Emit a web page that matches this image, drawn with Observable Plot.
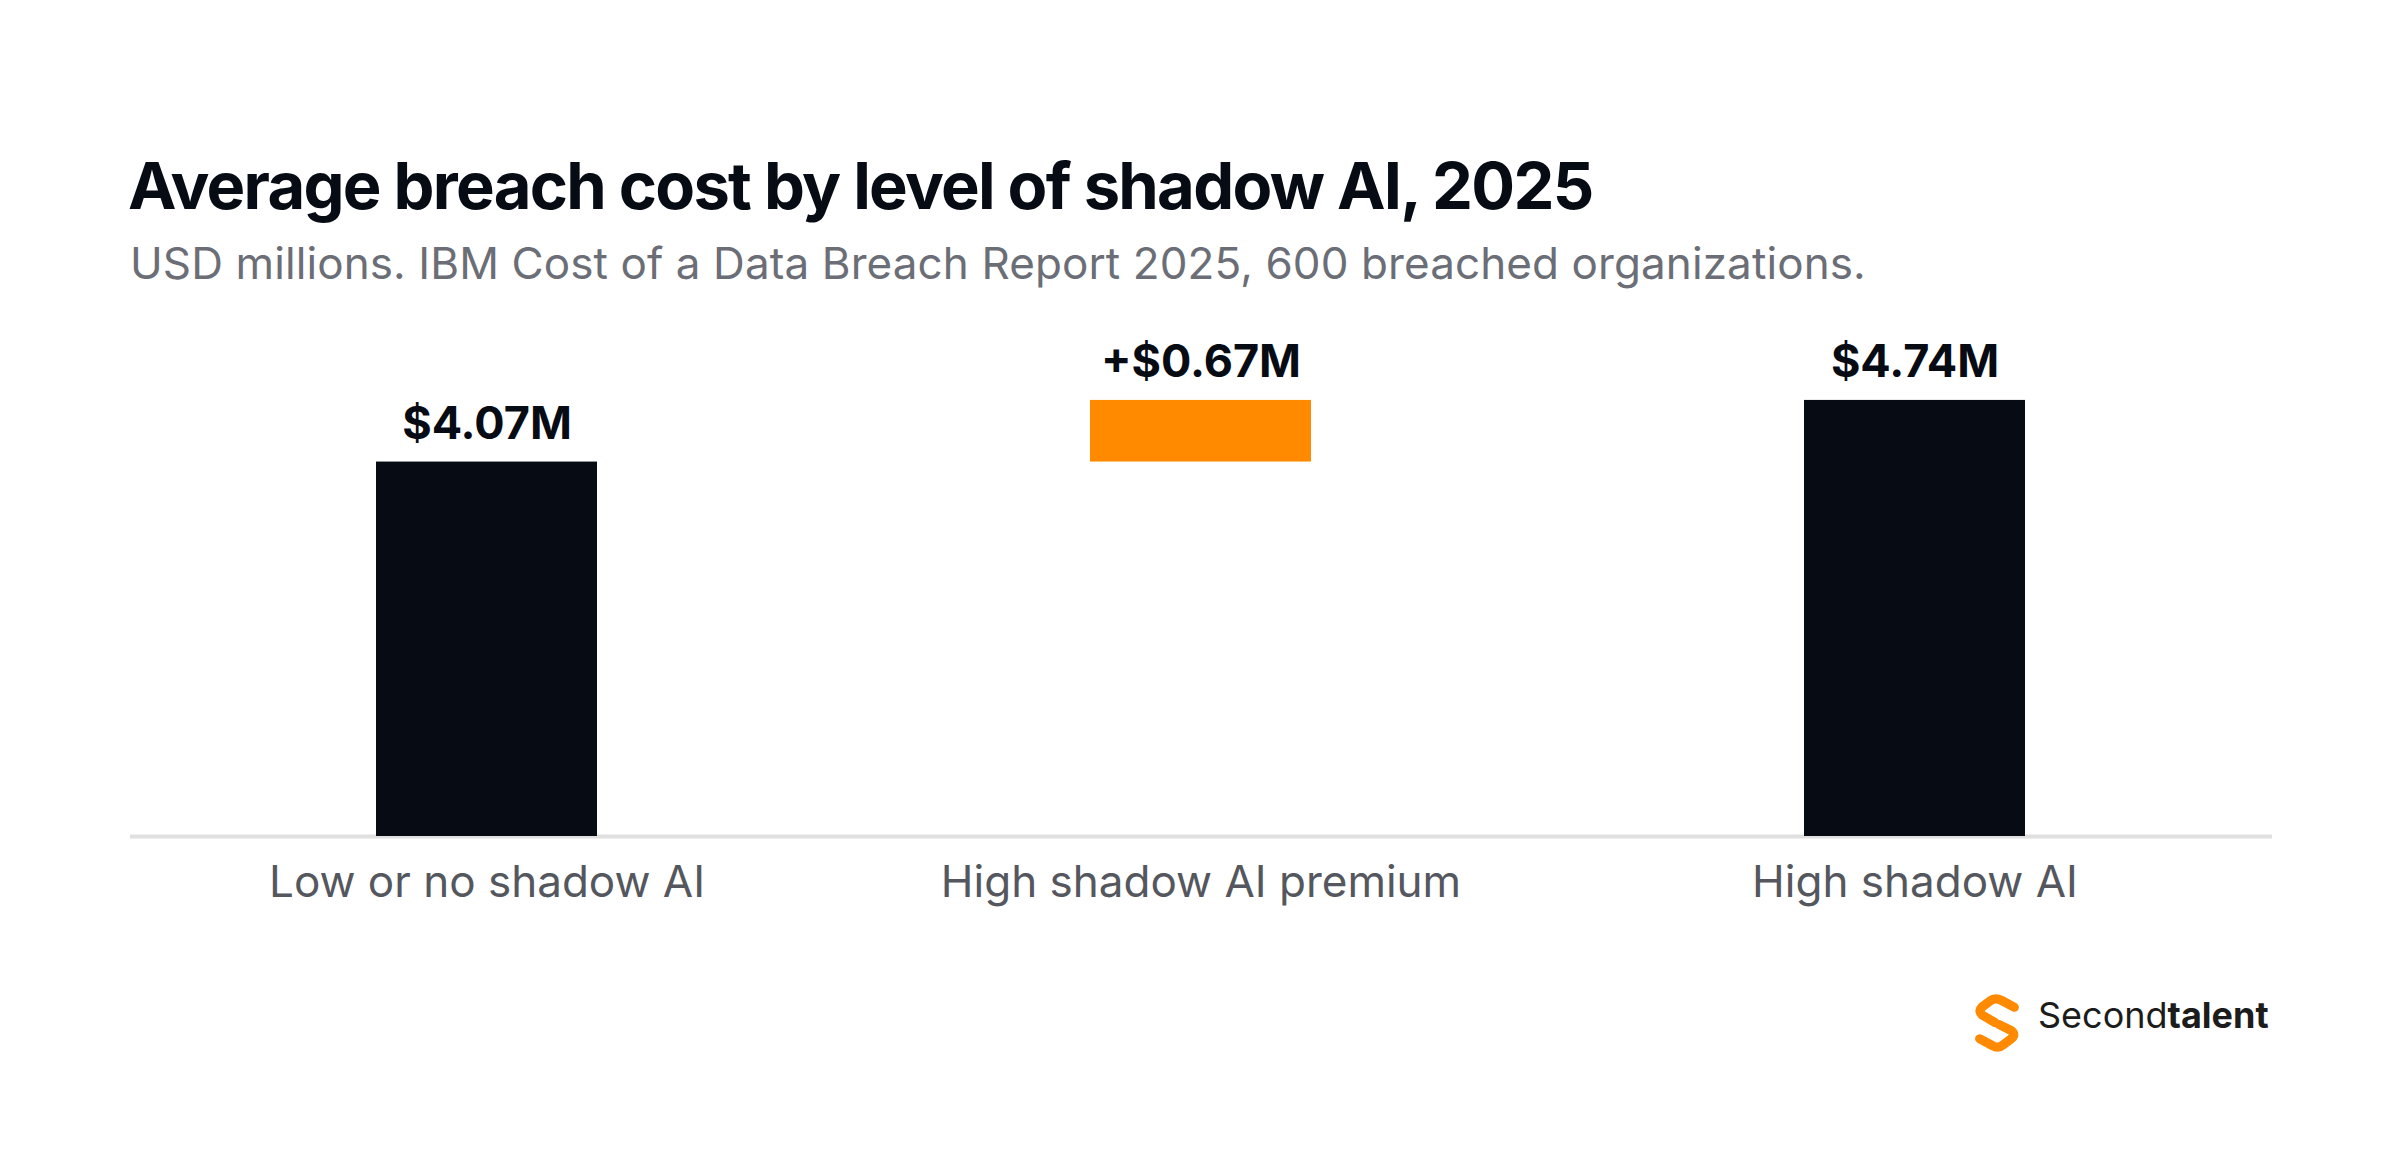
<!DOCTYPE html>
<html>
<head>
<meta charset="utf-8">
<script src="https://cdn.jsdelivr.net/npm/d3@7"></script>
<script src="https://cdn.jsdelivr.net/npm/@observablehq/plot@0.6"></script>
<style>
  html, body { margin: 0; padding: 0; background: #ffffff; }
  #wrap { position: relative; width: 2400px; height: 1160px; overflow: hidden; font-family: Inter, "Noto Sans", sans-serif; }
  .abs { position: absolute; white-space: nowrap; }
  #title { left: 128px; top: 153px; font-size: 65px; line-height: 65px; font-weight: 700; color: #070b14; letter-spacing: -1.7px; }
  #subtitle { left: 130px; top: 241px; font-size: 44px; line-height: 44px; font-weight: 400; color: #6b6e76; letter-spacing: 0.1px; }
  #chart { left: 0; top: 300px; }
  #logo-icon { left: 1972px; top: 994px; }
  #logo-text { left: 2038px; top: 997px; font-size: 36px; line-height: 36px; color: #1c1c1c; }
</style>
</head>
<body>
<div id="wrap">
  <div id="title" class="abs">Average breach cost by level of shadow AI, 2025</div>
  <div id="subtitle" class="abs">USD millions. IBM Cost of a Data Breach Report 2025, 600 breached organizations.</div>
  <div id="chart" class="abs"></div>
  <svg id="logo-icon" class="abs" width="50" height="58" viewBox="0 0 48 57">
    <g fill="none" stroke="#ff8a00" stroke-width="9" stroke-linecap="round" stroke-linejoin="round">
      <path d="M 41 13 L 28 6 Q 22 3 17 7 L 9 13 Q 5 17 10 21 L 22 28"/>
      <path d="M 26 30 L 38 36 Q 43 40 38 44 L 30 50 Q 25 54 20 51 L 7 44"/>
    </g>
  </svg>
  <div id="logo-text" class="abs">Second<b style="font-weight:700">talent</b></div>
</div>
<script>
const categories = ["Low or no shadow AI", "High shadow AI premium", "High shadow AI"];
const barStart = [0, 4.07, 0];
const barEnd = [4.07, 4.74, 4.74];
const labels = ["$4.07M", "+$0.67M", "$4.74M"];
const colors = ["#070b14", "#ff8a00", "#070b14"];

const data = categories.map((c, i) => ({
  category: c, y1: barStart[i], y2: barEnd[i], label: labels[i], color: colors[i]
}));

const chart = Plot.plot({
  width: 2400,
  height: 640,
  marginLeft: 130,
  marginRight: 128,
  marginTop: 76,
  marginBottom: 104,
  style: { fontFamily: 'Inter, "Noto Sans", sans-serif', background: "transparent" },
  x: { domain: categories, paddingInner: 0.69, paddingOuter: 0.345, label: null },
  y: { domain: [0, 5], axis: null },
  marks: [
    Plot.ruleY([0], { stroke: "#e0e0e0", strokeWidth: 4 }),
    Plot.barY(data, { x: "category", y1: "y1", y2: "y2", fill: "color" }),
    Plot.text(data, {
      x: "category", y: "y2", text: "label",
      textAnchor: "middle", lineAnchor: "bottom", dy: -23,
      fontSize: 45, fontWeight: 700, fill: "#070b14"
    }),
    Plot.axisX({ tickSize: 0, tickPadding: 29, fontSize: 44, fill: "#55575e", label: null })
  ]
});
document.getElementById("chart").appendChild(chart);
</script>
</body>
</html>
